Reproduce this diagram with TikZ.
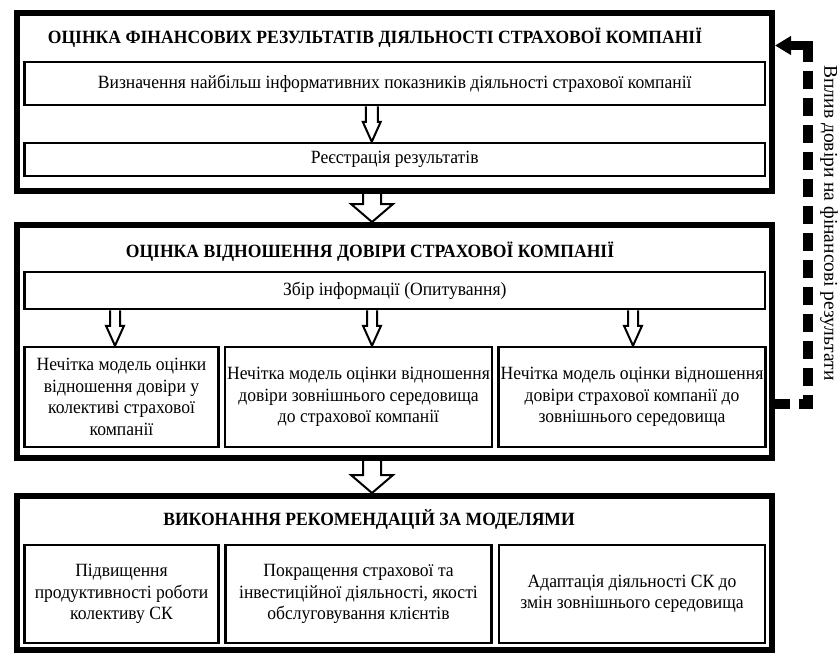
\documentclass[tikz,border=0pt]{standalone}
\usepackage{fontspec}
\setmainfont{Liberation Serif}[FakeStretch=0.94]
\newfontfamily\labelfont{Liberation Serif}
\usepackage{tikz}
\usetikzlibrary{calc,arrows.meta}
\tikzstyle{frame} = [rectangle, draw, line width=6pt, minimum width=755pt]
\tikzstyle{block} = [rectangle, draw, line width=2.5pt, align=center,
    inner sep=2pt]
\tikzstyle{title} = [font=\fontsize{18.7}{21.5}\selectfont\bfseries]
\tikzstyle{hollow} = [draw, line width=2pt, fill=white]
\tikzstyle{feedback} = [draw, line width=10pt, dash pattern=on 18pt off 9pt,
    dash phase=3pt]
\tikzstyle{feedhead} = [draw, line width=9pt,
    -{Triangle[length=16pt,width=18pt]}]
% start, end, half shaft, half head, head length
\newcommand{\hollowarrow}[5]{%
  \path [hollow] let \p1=(#1), \p2=(#2) in
    (\x2-#3,\y1) -- (\x2-#3,\y2+#5) -- (\x2-#4,\y2+#5) -- (\x2,\y2)
    -- (\x2+#4,\y2+#5) -- (\x2+#3,\y2+#5) -- (\x2+#3,\y1);}

\begin{document}
\begin{tikzpicture}[x=1pt, y=-1pt, font=\fontsize{18.7}{21.5}\selectfont]
    \useasboundingbox (0,0) rectangle (840,654);
    % Place nodes
    \node [frame, minimum height=178pt] (fin) at (394.5,102) {};
    \node [title] (fintitle) at (375,38)
        {ОЦІНКА ФІНАНСОВИХ РЕЗУЛЬТАТІВ ДІЯЛЬНОСТІ СТРАХОВОЇ КОМПАНІЇ};
    \node [block, minimum width=740.5pt, minimum height=43pt] (vyzn) at (394.75,83.5)
        {Визначення найбільш інформативних показників діяльності страхової компанії};
    \node [block, minimum width=740.5pt, minimum height=33pt] (reg) at (394.75,159.5)
        {Реєстрація результатів};

    \node [frame, minimum height=233pt] (trust) at (394.5,341.5) {};
    \node [title] (trusttitle) at (370,252)
        {ОЦІНКА ВІДНОШЕННЯ ДОВІРИ СТРАХОВОЇ КОМПАНІЇ};
    \node [block, minimum width=740.5pt, minimum height=37pt] (zbir) at (394.75,290.5)
        {Збір інформації (Опитування)};
    \node [block, minimum width=194pt, minimum height=100pt] (modelA) at (121.5,397)
        {Нечітка модель оцінки\\ відношення довіри у\\ колективі страхової\\ компанії};
    \node [block, minimum width=266pt, minimum height=100pt] (modelB) at (358.5,397)
        {Нечітка модель оцінки відношення\\ довіри зовнішнього середовища\\ до страхової компанії};
    \node [block, minimum width=266pt, minimum height=100pt] (modelC) at (632,397)
        {Нечітка модель оцінки відношення\\ довіри страхової компанії до\\ зовнішнього середовища};

    \node [frame, minimum height=154pt] (rec) at (394.5,573) {};
    \node [title] (rectitle) at (369,520)
        {ВИКОНАННЯ РЕКОМЕНДАЦІЙ ЗА МОДЕЛЯМИ};
    \node [block, minimum width=194pt, minimum height=98pt] (recA) at (121.5,594)
        {Підвищення\\ продуктивності роботи\\ колективу СК};
    \node [block, minimum width=266pt, minimum height=98pt] (recB) at (358.5,594)
        {Покращення страхової та\\ інвестиційної діяльності, якості\\ обслуговування клієнтів};
    \node [block, minimum width=266pt, minimum height=98pt] (recC) at (632,594)
        {Адаптація діяльності СК до\\ змін зовнішнього середовища};

    \node [rotate=-90, font=\fontsize{19.5}{22}\labelfont] (influence) at (829,223)
        {Вплив довіри на фінансові результати};
    \coordinate (turn) at (808,45.5);
    % Draw edges
    \hollowarrow{vyzn.south}{[xshift=-23pt]reg.north}{6pt}{9pt}{20pt}
    \hollowarrow{fin.south}{[xshift=-22.5pt]trust.north}{9pt}{21pt}{18pt}
    \hollowarrow{zbir.south}{[xshift=-6.5pt]modelA.north}{5pt}{9pt}{20pt}
    \hollowarrow{zbir.south}{[xshift=13.5pt]modelB.north}{5pt}{9pt}{20pt}
    \hollowarrow{zbir.south}{[xshift=1pt]modelC.north}{5pt}{9pt}{20pt}
    \hollowarrow{trust.south}{[xshift=-22.5pt]rec.north}{9pt}{21pt}{18pt}
    \path [feedback] ([yshift=-62pt]trust.east) -| (turn);
    \path [feedhead] ([xshift=5pt]turn) -- ([yshift=56.5pt]fin.east);
\end{tikzpicture}
\end{document}
